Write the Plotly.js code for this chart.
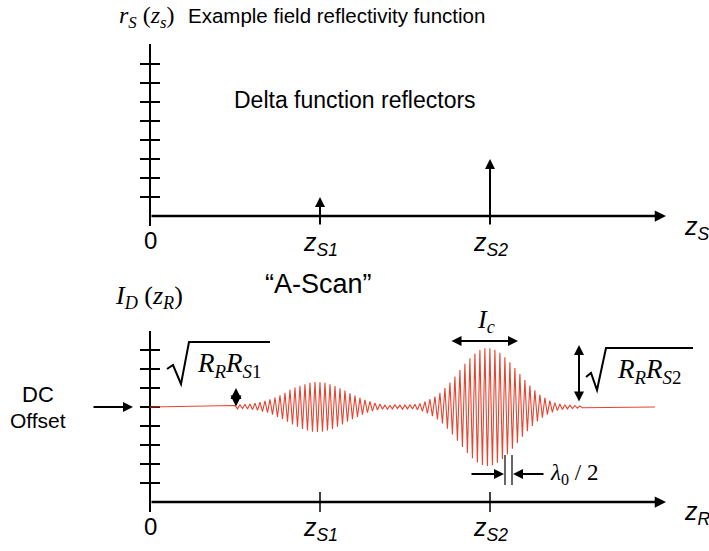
<!DOCTYPE html>
<html><head><meta charset="utf-8">
<script src="https://cdn.plot.ly/plotly-3.0.1.min.js"></script>
<style>html,body{margin:0;padding:0;background:#fff}#chart{width:709px;height:551px}</style>
</head><body><div id="chart"></div>
<script>
// ---------------- data ----------------
const reflectorNames = ['S1', 'S2'];
const reflectorZ = [1.0, 2.0];          // z_S1, z_S2
const reflectivity = [1, 3];            // delta heights (tick units)
const yTicks = [1, 2, 3, 4, 5, 6, 7, 8];
const dcOffset = 5;
const scanStartZ = 0.5;
const scanStepZ = 0.0147;
const scanEndZ = 2.97;
// signed fringe deviations from the DC level, one per half fringe
const scanDeviation = [
  0.08,-0.1,0.12,-0.08,0.14,-0.1,0.16,-0.14,0.2,-0.18,
  0.25,-0.24,0.32,-0.3,0.4,-0.4,0.5,-0.52,0.62,-0.64,
  0.75,-0.78,0.9,-0.92,1.02,-1.04,1.12,-1.15,1.2,-1.24,
  1.28,-1.3,1.32,-1.32,1.3,-1.3,1.27,-1.24,1.2,-1.15,
  1.1,-1.04,0.98,-0.92,0.86,-0.78,0.72,-0.64,0.6,-0.52,
  0.48,-0.4,0.38,-0.3,0.29,-0.22,0.22,-0.16,0.16,-0.12,
  0.1,-0.12,0.08,-0.1,0.12,-0.08,0.1,-0.12,0.1,-0.1,
  0.12,-0.1,0.14,-0.15,0.19,-0.23,0.28,-0.34,0.41,-0.48,
  0.55,-0.66,0.75,-0.87,1.0,-1.14,1.29,-1.45,1.61,-1.77,
  1.94,-2.11,2.27,-2.42,2.57,-2.7,2.82,-2.92,3.0,-3.05,
  3.09,-3.1,3.09,-3.06,3.01,-2.94,2.85,-2.74,2.62,-2.49,
  2.35,-2.2,2.05,-1.89,1.73,-1.57,1.42,-1.27,1.13,-1.0,
  0.88,-0.76,0.66,-0.56,0.48,-0.4,0.34,-0.28,0.23,-0.19,
  0.16,-0.13,0.12,-0.1,0.1,-0.08,0.08,-0.06,0.06,-0.04
];

// ---------------- geometry helpers (pixel -> axis units) ----------------
const W = 709, H = 551;
const X  = p => (p - 150) / 170;
const Y1 = p => (216 - p) / 19;
const Y2 = p => (502 - p) / 19;
const PX = p => p / W, PY = p => 1 - p / H;
const SANS = 'Liberation Sans, Arial, sans-serif';
const SERIF = 'Liberation Serif, Times New Roman, serif';
const RED = '#e8432e';
const tickHalf = X(160);

function tickSegs(vals) {
  const x = [], y = [];
  vals.forEach(v => { x.push(-tickHalf, tickHalf, null); y.push(v, v, null); });
  return {x, y};
}

const traces = [];
// top panel vertical axis + ticks
traces.push({x: [0, 0], y: [Y1(226), Y1(44)], yaxis: 'y', mode: 'lines', line: {color: '#000', width: 2}, hoverinfo: 'skip'});
const t1 = tickSegs(yTicks);
traces.push({x: t1.x, y: t1.y, yaxis: 'y', mode: 'lines', line: {color: '#000', width: 2}, hoverinfo: 'skip'});
// bottom panel vertical axis + ticks
traces.push({x: [0, 0], y: [Y2(512), Y2(331)], yaxis: 'y2', mode: 'lines', line: {color: '#000', width: 2}, hoverinfo: 'skip'});
traces.push({x: t1.x, y: t1.y, yaxis: 'y2', mode: 'lines', line: {color: '#000', width: 2}, hoverinfo: 'skip'});
// bottom x ticks at reflector positions
const xt = {x: [], y: []};
reflectorZ.forEach(z => { xt.x.push(z, z, null); xt.y.push(Y2(512), Y2(492), null); });
traces.push({x: xt.x, y: xt.y, yaxis: 'y2', mode: 'lines', line: {color: '#000', width: 1.5}, hoverinfo: 'skip'});
// A-scan waveform
const sx = [0], sy = [dcOffset];
scanDeviation.forEach((d, i) => { sx.push(scanStartZ + i * scanStepZ); sy.push(dcOffset + d); });
sx.push(scanEndZ); sy.push(dcOffset);
traces.push({x: sx, y: sy, yaxis: 'y2', mode: 'lines', line: {color: RED, width: 1.1}, hoverinfo: 'skip'});

// ---------------- annotations ----------------
const ann = [];
function arrow(x, y, ax, ay, yr, opts) {
  ann.push(Object.assign({x, y, ax, ay, xref: 'x', yref: yr, axref: 'x', ayref: yr,
    text: '', showarrow: true, arrowhead: 2, arrowsize: 1, arrowwidth: 2, arrowcolor: '#000', standoff: 0, startstandoff: 0}, opts || {}));
}
function label(text, x, y, size, family, opts) {
  ann.push(Object.assign({text, x: PX(x), y: PY(y), xref: 'paper', yref: 'paper', showarrow: false,
    xanchor: 'center', yanchor: 'middle', font: {size, family, color: '#000'}}, opts || {}));
}
// axes arrows
arrow(X(666), 0, 0, 0, 'y', {arrowwidth: 2.5, arrowsize: 0.9});
arrow(X(666), 0, 0, 0, 'y2', {arrowwidth: 2.5, arrowsize: 0.9});
// delta reflectors
reflectorZ.forEach((z, i) => arrow(z, reflectivity[i], z, Y1(226), 'y'));
// reflector labels
reflectorZ.forEach((z, i) => {
  const t = '<i>z<sub>' + reflectorNames[i] + '</sub></i>';
  ann.push({text: t, x: z, y: PY(244), xref: 'x', yref: 'paper', showarrow: false, xanchor: 'center', yanchor: 'middle', font: {size: 25, family: SANS, color: '#000'}});
  ann.push({text: t, x: z, y: PY(529), xref: 'x', yref: 'paper', showarrow: false, xanchor: 'center', yanchor: 'middle', font: {size: 25, family: SANS, color: '#000'}});
});
label('0', 150, 241, 24, SANS);
label('0', 150, 526, 24, SANS);
label('<i>z<sub>S</sub></i>', 692, 228, 25, SANS, {xanchor: 'left', x: PX(682)});
label('<i>z<sub>R</sub></i>', 692, 513, 25, SANS, {xanchor: 'left', x: PX(682)});
label('<i>r<sub>S</sub></i> (<i>z<sub>s</sub></i>)', 177, 17, 24, SERIF, {xanchor: 'right'});
label('Example field reflectivity function', 186, 15, 20.5, SANS, {xanchor: 'left'});
label('Delta function reflectors', 355, 100, 23, SANS);
label('<i>I<sub>D</sub></i> (<i>z<sub>R</sub></i>)', 149, 297, 26, SERIF);
label('\u201CA-Scan\u201D', 318, 284, 27, SANS);
label('<i>I<sub>c</sub></i>', 486, 321, 26, SERIF);
arrow(X(518), Y2(341), X(450), Y2(341), 'y2', {arrowside: 'end+start'});
// sqrt labels
label('<i>R<sub>R</sub>R<sub>S</sub></i><sub>1</sub>', 229, 365, 27, SERIF);
label('<i>R<sub>R</sub>R<sub>S</sub></i><sub>2</sub>', 649, 371, 27, SERIF);
arrow(X(579), Y2(345), X(579), Y2(403), 'y2', {arrowside: 'end+start'});
arrow(X(236), Y2(388), X(236), Y2(408), 'y2', {arrowside: 'end+start', arrowsize: 1.1});
// DC offset
label('DC', 38, 394, 22, SANS);
label('Offset', 38, 420, 21, SANS);
arrow(X(133), Y2(407), X(92), Y2(407), 'y2');
// lambda/2
arrow(X(504), Y2(474), X(470), Y2(474), 'y2');
arrow(X(513), Y2(474), X(545), Y2(474), 'y2');
label('<i>\u03BB</i><sub>0</sub> / 2', 548, 474, 23, SERIF, {xanchor: 'left'});

// ---------------- shapes (radicals, lambda markers) ----------------
function path(pts) {
  return pts.map((p, i) => (i ? 'L' : 'M') + X(p[0]) + ',' + Y2(p[1])).join(' ');
}
const shapes = [
  {type: 'path', xref: 'x', yref: 'y2', path: path([[167,369],[173,365],[181,384],[189,342],[270,342]]), line: {color: '#000', width: 2}},
  {type: 'path', xref: 'x', yref: 'y2', path: path([[586,377],[591,373],[597,390],[606,348],[693,348]]), line: {color: '#000', width: 2}},
  {type: 'line', xref: 'x', yref: 'y2', x0: X(505), x1: X(505), y0: Y2(455), y1: Y2(485), line: {color: '#000', width: 1.2}},
  {type: 'line', xref: 'x', yref: 'y2', x0: X(512), x1: X(512), y0: Y2(455), y1: Y2(485), line: {color: '#000', width: 1.2}}
];

const layout = {
  width: W, height: H, margin: {l: 0, r: 0, t: 0, b: 0},
  paper_bgcolor: '#fff', plot_bgcolor: '#fff', showlegend: false,
  xaxis: {range: [X(0), X(W)], visible: false, fixedrange: true},
  yaxis: {range: [Y1(H), Y1(0)], visible: false, fixedrange: true},
  yaxis2: {range: [Y2(H), Y2(0)], visible: false, fixedrange: true, overlaying: 'y'},
  annotations: ann, shapes: shapes
};
Plotly.newPlot('chart', traces, layout, {displayModeBar: false, staticPlot: true});
</script>
</body></html>
